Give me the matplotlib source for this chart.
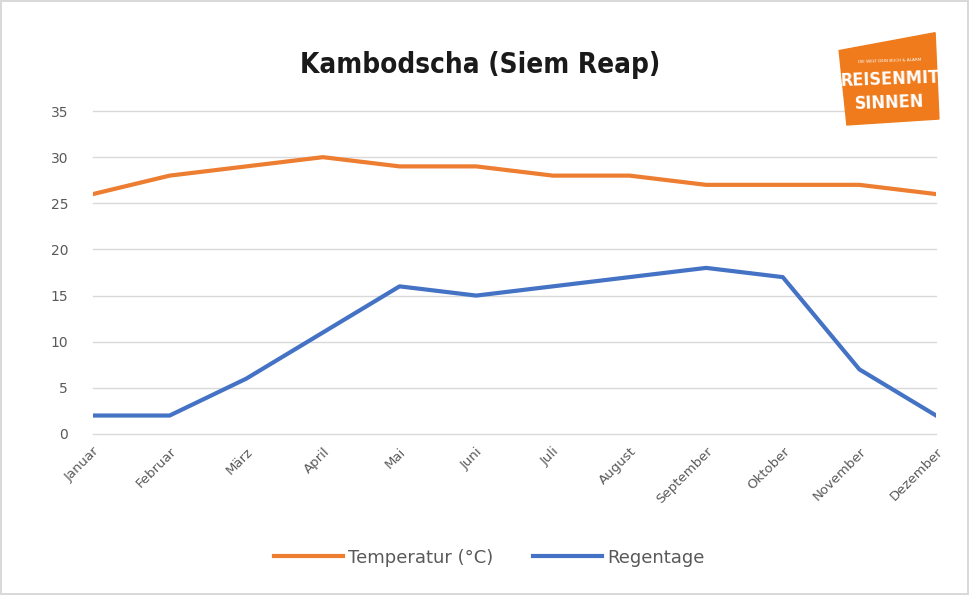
import matplotlib.pyplot as plt
from matplotlib.patches import Polygon

monate = ["Januar", "Februar", "März", "April", "Mai", "Juni", "Juli",
          "August", "September", "Oktober", "November", "Dezember"]
temperatur = [26, 28, 29, 30, 29, 29, 28, 28, 27, 27, 27, 26]
regentage = [2, 2, 6, 11, 16, 15, 16, 17, 18, 17, 7, 2]
y_ticks = [0, 5, 10, 15, 20, 25, 30, 35]

orange = "#ED7D31"
blau = "#4472C4"
grau = "#595959"

fig = plt.figure(figsize=(9.69, 5.95), dpi=100)
fig.patch.set_edgecolor("#D9D9D9")
fig.patch.set_linewidth(1.5)

ax = fig.add_axes([0.096, 0.2706, 0.870, 0.5428])
x = list(range(len(monate)))
ax.plot(x, temperatur, color=orange, lw=3, label="Temperatur (°C)")
ax.plot(x, regentage, color=blau, lw=3, label="Regentage")

ax.set_xlim(0, len(monate) - 1)
ax.set_ylim(0, 35)
ax.set_yticks(y_ticks)
ax.yaxis.grid(True, color="#D9D9D9", lw=1)
for gl in ax.get_ygridlines():
    gl.set_clip_on(False)
ax.set_axisbelow(True)
for s in ax.spines.values():
    s.set_visible(False)
ax.tick_params(length=0, colors=grau, labelsize=10)
ax.tick_params(axis="y", pad=18)
ax.set_xticks(x)
ax.set_xticklabels(monate, rotation=45, ha="right", rotation_mode="anchor",
                   fontsize=9.5)
ax.tick_params(axis="x", pad=8)

fig.text(0.495, 0.89, "Kambodscha (Siem Reap)", ha="center", va="center",
         fontsize=20, fontweight="bold", fontstretch="condensed",
         family="DejaVu Sans", color="#1a1a1a")

leg = fig.legend(loc="center", bbox_to_anchor=(0.505, 0.063), ncol=2,
                 frameon=False, fontsize=13, handlelength=3.8,
                 columnspacing=2.2, handletextpad=0.3)
for t in leg.get_texts():
    t.set_color(grau)

# Logo oben rechts
logo = Polygon([[0.866, 0.915], [0.965, 0.945], [0.969, 0.800], [0.874, 0.790]],
               closed=True, transform=fig.transFigure, color="#EF7B1C",
               zorder=5)
fig.patches.append(logo)
fig.text(0.918, 0.898, "DIE WELT DEIN BUCH & ALARM", ha="center", va="center",
         fontsize=3, color="white", zorder=6, rotation=2)
fig.text(0.918, 0.866, "REISENMIT", ha="center", va="center", fontsize=13,
         fontweight="bold", fontstretch="condensed", family="DejaVu Sans",
         color="white", zorder=6, rotation=2)
fig.text(0.918, 0.828, "SINNEN", ha="center", va="center", fontsize=13,
         fontweight="bold", fontstretch="condensed", family="DejaVu Sans",
         color="white", zorder=6, rotation=2)

fig.savefig("out.png", dpi=100)
